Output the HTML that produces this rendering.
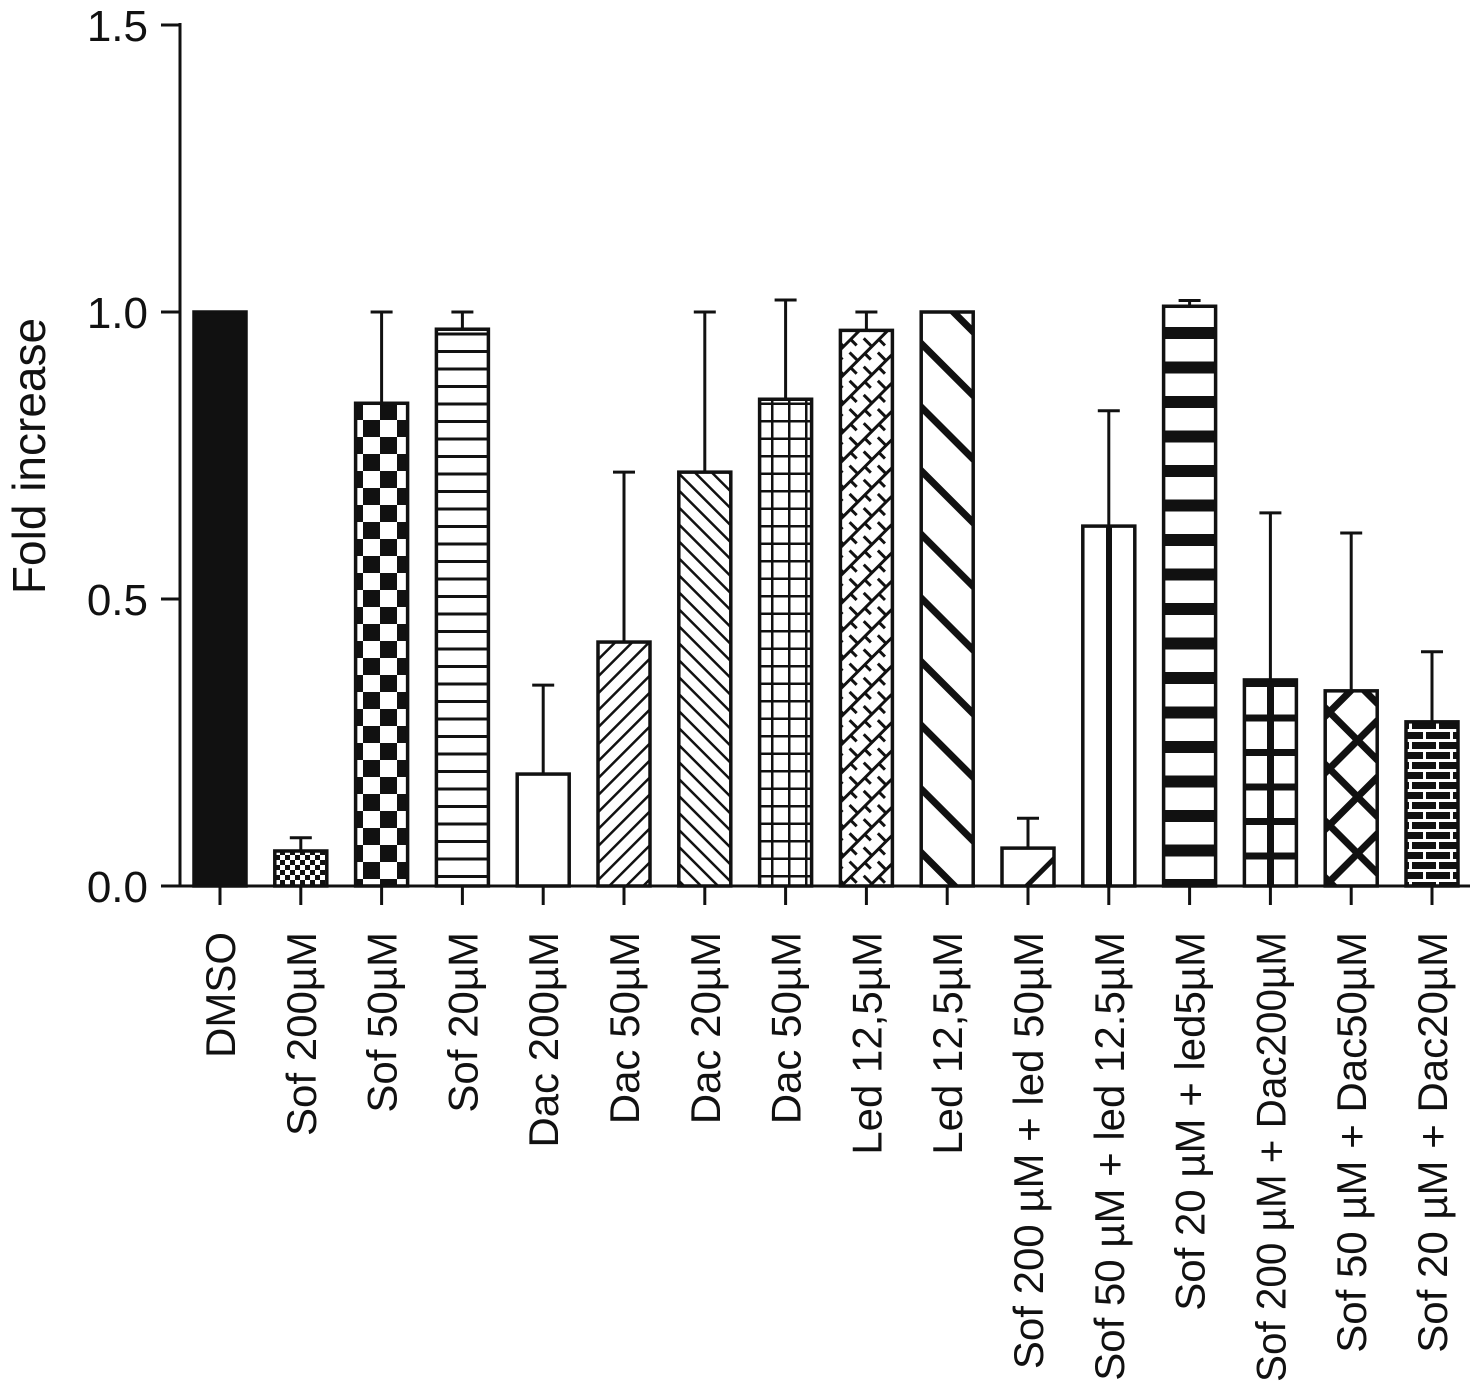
<!DOCTYPE html>
<html><head><meta charset="utf-8"><style>
html,body{margin:0;padding:0;background:#fff}
svg{display:block;font-family:"Liberation Sans",Arial,sans-serif}
</style></head><body>
<svg id="chart" width="1473" height="1389" viewBox="0 0 1473 1389" xmlns="http://www.w3.org/2000/svg">
<defs>
<pattern id="p0" width="10" height="10" patternUnits="userSpaceOnUse"><rect width="10" height="10" fill="#111"/></pattern>
<pattern id="p1" width="10" height="10" patternUnits="userSpaceOnUse"><rect width="10" height="10" fill="#fff"/><rect width="5" height="5" fill="#111"/><rect x="5" y="5" width="5" height="5" fill="#111"/></pattern>
<pattern id="p2" width="34" height="34" patternUnits="userSpaceOnUse" x="193" y="403"><rect width="34" height="34" fill="#fff"/><rect x="17" y="0" width="17" height="17" fill="#111"/><rect x="0" y="17" width="17" height="17" fill="#111"/></pattern>
<pattern id="p3" width="10" height="17.5" patternUnits="userSpaceOnUse"><rect width="10" height="17.5" fill="#fff"/><rect y="0" width="10" height="3" fill="#111"/></pattern>
<pattern id="p4" width="10" height="10" patternUnits="userSpaceOnUse"><rect width="10" height="10" fill="#fff"/></pattern>
<pattern id="p5" width="12" height="12" patternUnits="userSpaceOnUse" patternTransform="rotate(45)"><rect width="12" height="12" fill="#fff"/><rect width="2.5" height="12" fill="#111"/></pattern>
<pattern id="p6" width="12" height="12" patternUnits="userSpaceOnUse" patternTransform="rotate(-45)"><rect width="12" height="12" fill="#fff"/><rect width="2.5" height="12" fill="#111"/></pattern>
<pattern id="p7" width="17" height="17.5" patternUnits="userSpaceOnUse" x="805"><rect width="17" height="17.5" fill="#fff"/><rect width="17" height="2.5" fill="#111"/><rect width="2.5" height="17.5" fill="#111"/></pattern>
<pattern id="p8" width="20" height="20" patternUnits="userSpaceOnUse" patternTransform="rotate(-45)"><rect width="20" height="20" fill="#fff"/><rect width="20" height="3" fill="#111"/><rect x="0" width="3" height="10" fill="#111"/><rect x="10" y="10" width="3" height="10" fill="#111"/></pattern>
<pattern id="p9" width="45" height="45" patternUnits="userSpaceOnUse" patternTransform="rotate(-45)"><rect width="45" height="45" fill="#fff"/><rect width="7" height="45" fill="#111"/></pattern>
<pattern id="p10" width="50" height="50" patternUnits="userSpaceOnUse" patternTransform="rotate(45)"><rect width="50" height="50" fill="#fff"/><rect width="5" height="50" fill="#111"/></pattern>
<pattern id="p11" width="54" height="10" patternUnits="userSpaceOnUse" x="1082"><rect width="54" height="10" fill="#fff"/><rect x="24" width="6" height="10" fill="#111"/></pattern>
<pattern id="p12" width="10" height="34.5" patternUnits="userSpaceOnUse" y="306"><rect width="10" height="34.5" fill="#fff"/><rect y="21" width="10" height="12" fill="#111"/></pattern>
<pattern id="p13" width="54" height="34.5" patternUnits="userSpaceOnUse" x="1243" y="680"><rect width="54" height="34.5" fill="#fff"/><rect width="54" height="7" fill="#111"/><rect x="24" width="7" height="34.5" fill="#111"/></pattern>
<pattern id="p14" width="40" height="40" patternUnits="userSpaceOnUse" patternTransform="rotate(45)"><rect width="40" height="40" fill="#fff"/><rect width="7" height="40" fill="#111"/><rect width="40" height="7" fill="#111"/></pattern>
<pattern id="p15" width="27" height="20" patternUnits="userSpaceOnUse" x="1405" y="722"><rect width="27" height="20" fill="#111"/><rect x="0" y="7" width="27" height="3" fill="#fff"/><rect x="0" y="17" width="27" height="3" fill="#fff"/><rect x="4" y="0" width="3" height="10" fill="#fff"/><rect x="18" y="10" width="3" height="10" fill="#fff"/></pattern>
</defs>
<g id="bars"></g>
<g id="axes"></g>
<text x="45" y="456" font-size="46" text-anchor="middle" transform="rotate(-90 45 456)" fill="#111">Fold increase</text>
</svg>
<script>
const categories = ["DMSO","Sof 200µM","Sof 50µM","Sof 20µM","Dac 200µM","Dac 50µM","Dac 20µM","Dac 50µM","Led 12,5µM","Led 12,5µM","Sof 200 µM + led 50µM","Sof 50 µM + led 12.5µM","Sof 20 µM + led5µM","Sof 200 µM + Dac200µM","Sof 50 µM + Dac50µM","Sof 20 µM + Dac20µM"];
const meanValues = [1.0,0.061,0.841,0.970,0.195,0.425,0.721,0.848,0.968,1.0,0.066,0.627,1.010,0.359,0.340,0.286];
const errorTops = [null,0.084,1.0,1.0,0.350,0.721,1.0,1.021,1.0,null,0.118,0.828,1.020,0.650,0.615,0.408];
const yTicks = [0.0,0.5,1.0,1.5];
const yTickLabels = ["0.0","0.5","1.0","1.5"];

const NS="http://www.w3.org/2000/svg";
const y0=886, y1=25, yMax=1.5;
function yScale(v){return y0-(v/yMax)*(y0-y1);}
const x0=220, step=80.8, bw=52;
function xScale(i){return x0+i*step;}
function mk(tag,attrs,parent){const e=document.createElementNS(NS,tag);for(const k in attrs)e.setAttribute(k,attrs[k]);parent.appendChild(e);return e;}
const gb=document.getElementById('bars'), ga=document.getElementById('axes');
const maxLabelLen=450;
categories.forEach((c,i)=>{
  const cx=xScale(i), top=yScale(meanValues[i]);
  if(errorTops[i]!==null){
    const et=yScale(errorTops[i]);
    const l=mk('line',{x1:cx,x2:cx,y1:top,y2:et,stroke:'#111','stroke-width':3},gb);
    
    
    const cap=mk('line',{x1:cx-11,x2:cx+11,y1:et,y2:et,stroke:'#111','stroke-width':3},gb);
    
    
  }
  const r=mk('rect',{x:cx-bw/2,y:top,width:bw,height:y0-top,fill:'url(#p'+i+')',stroke:'#111','stroke-width':3.5},gb);
  
  
  const t=mk('line',{x1:cx,x2:cx,y1:y0,y2:905,stroke:'#111','stroke-width':3},ga);
  
  
  const lab=mk('text',{x:cx+15,y:932,'font-size':42,'text-anchor':'end',fill:'#111',transform:'rotate(-90 '+(cx+15)+' 932)'},ga);
  lab.textContent=c;
  
  
  try{ if(lab.getComputedTextLength()>maxLabelLen){lab.setAttribute('textLength',maxLabelLen);lab.setAttribute('lengthAdjust','spacingAndGlyphs');} }catch(e){}
});
const ax=mk('line',{x1:180,x2:180,y1:y1-2,y2:y0+1.5,stroke:'#111','stroke-width':3},ga);


const xa=mk('line',{x1:178.5,x2:1470,y1:y0,y2:y0,stroke:'#111','stroke-width':3},ga);


yTicks.forEach((v,i)=>{
  const yy=yScale(v);
  const t=mk('line',{x1:161,x2:180,y1:yy,y2:yy,stroke:'#111','stroke-width':3},ga);
  
  
  const lab=mk('text',{x:148,y:yy+16,'font-size':44,'text-anchor':'end',fill:'#111'},ga);
  lab.textContent=yTickLabels[i];
  
  
});
</script>
</body></html>
